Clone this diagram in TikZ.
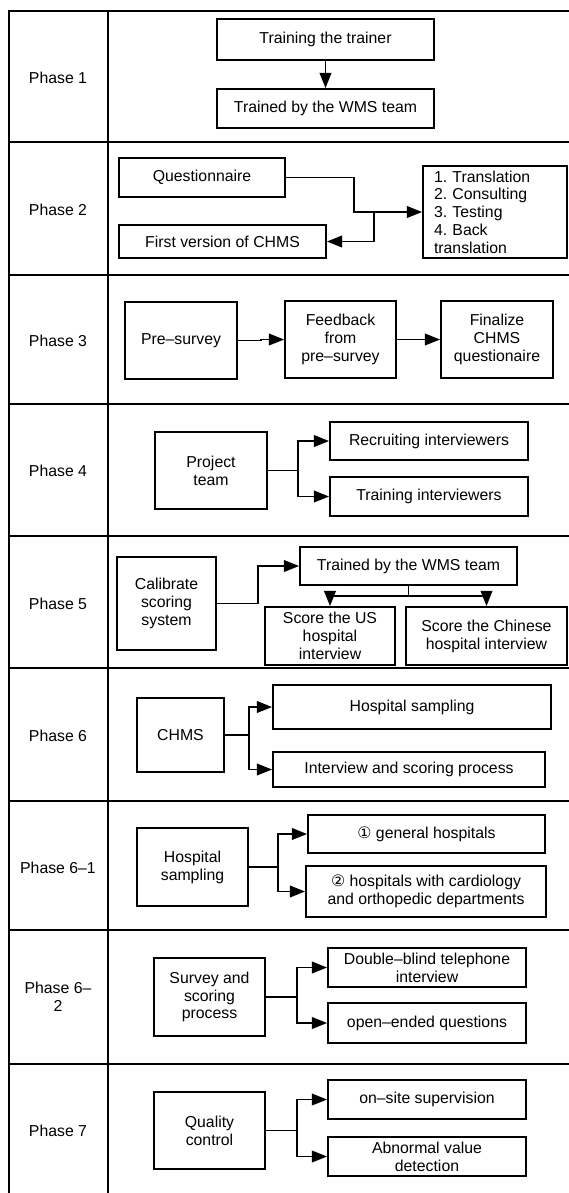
\documentclass[tikz,border=0pt]{standalone}
\usepackage{fontspec}
\setmainfont{Liberation Sans}
\newfontfamily\circfont{DejaVu Sans}
\usetikzlibrary{arrows,arrows.meta,positioning}
\frenchspacing

\begin{document}
\begin{tikzpicture}[x=0.03cm, y=-0.03cm]
% STYLES
\tikzset{%
    stage/.style={%
    rectangle,
    draw,
    line width=1.6pt,
    inner sep=1pt,
    align=center,
    font=\fontsize{13.5}{15.2}\selectfont}
    }
\tikzset{%
    phase/.style={%
    align=center,
    %draw,
    font=\fontsize{13.5}{15.2}\selectfont}
    }
\tikzset{%
    frameline/.style={line width=1.8pt},
    linkline/.style={line width=1.4pt},
    flowline/.style={linkline, -{Triangle[length=13pt,width=10pt]}}
    }
\useasboundingbox (0,0) rectangle (569,1193);

% Draw the table
\draw[frameline] (569,11) -- (9,11) -- (9,1193);
\draw[frameline] (108,11) -- (108,1193);
\foreach \y in {142,275,404,536,668,801,930,1064}
    \draw[frameline] (9,\y) -- (569,\y);

% Phase labels
\node [phase] (PhaseOne) at (58,78) {Phase 1};
\node [phase] (PhaseTwo) at (58,210) {Phase 2};
\node [phase] (PhaseThree) at (58,341) {Phase 3};
\node [phase] (PhaseFour) at (58,471) {Phase 4};
\node [phase] (PhaseFive) at (58,604) {Phase 5};
\node [phase] (PhaseSix) at (58,736) {Phase 6};
\node [phase] (PhaseSixA) at (58,868) {Phase 6–1};
\node [phase] (PhaseSixB) at (58,997) {Phase 6–\\2};
\node [phase] (PhaseSeven) at (58,1131) {Phase 7};

% Phase 1
\node [stage, minimum width=6.51cm, minimum height=1.23cm] (Trainer) at (325.5,39.5) {Training the trainer};
\node [stage, minimum width=6.51cm, minimum height=1.17cm] (TrainedWMS) at (325.5,108.5) {Trained by the WMS team};

% Phase 2
\node [stage, minimum width=4.98cm, minimum height=1.17cm] (Questionnaire) at (202,177.5) {Questionnaire};
\node [stage, minimum width=6.21cm, minimum height=0.99cm] (FirstVersion) at (222.5,241.5) {First version of CHMS};
\node [stage, align=left, text width=3.66cm, inner xsep=0.33cm, inner ysep=1pt, minimum height=2.76cm] (Steps) at (495,212) {1. Translation\\2. Consulting\\3. Testing\\4. Back\\translation};

% Phase 3
\node [stage, minimum width=3.36cm, minimum height=2.31cm] (PreSurvey) at (181,340.5) {Pre–survey};
\node [stage, minimum width=3.33cm, minimum height=2.31cm] (Feedback) at (340.5,339.5) {Feedback\\from\\pre–survey};
\node [stage, minimum width=3.36cm, minimum height=2.31cm] (Finalize) at (497,339.5) {Finalize\\CHMS\\questionaire};

% Phase 4
\node [stage, minimum width=3.36cm, minimum height=2.31cm] (ProjectTeam) at (211,470.5) {Project\\team};
\node [stage, minimum width=5.94cm, minimum height=1.14cm] (Recruiting) at (429,441) {Recruiting interviewers};
\node [stage, minimum width=5.94cm, minimum height=1.17cm] (TrainingInt) at (429,496.5) {Training interviewers};

% Phase 5
\node [stage, minimum width=2.97cm, minimum height=2.79cm] (Calibrate) at (166.5,603.5) {Calibrate\\scoring\\system};
\node [stage, minimum width=6.51cm, minimum height=1.14cm] (TrainedTwo) at (408.5,566) {Trained by the WMS team};
\node [stage, minimum width=3.9cm, minimum height=1.74cm] (ScoreUS) at (330,636) {Score the US\\hospital\\interview};
\node [stage, minimum width=4.83cm, minimum height=1.74cm] (ScoreCN) at (486.5,636) {Score the Chinese\\hospital interview};

% Phase 6
\node [stage, minimum width=2.61cm, minimum height=2.22cm] (CHMS) at (180.5,735) {CHMS};
\node [stage, minimum width=8.34cm, minimum height=1.32cm] (HospSampling) at (412,707) {Hospital sampling};
\node [stage, minimum width=8.16cm, minimum height=1.05cm] (InterviewScoring) at (409,769.5) {Interview and scoring process};

% Phase 6-1
\node [stage, minimum width=3.33cm, minimum height=2.34cm] (SampleHosp) at (192.5,867) {Hospital\\sampling};
\node [stage, minimum width=7.11cm, minimum height=1.14cm] (General) at (426.5,834) {{\circfont ①} general hospitals};
\node [stage, minimum width=7.2cm, minimum height=1.53cm] (Cardio) at (426,891.5) {{\circfont ②} hospitals with cardiology\\and orthopedic departments};

% Phase 6-2
\node [stage, minimum width=3.33cm, minimum height=2.34cm] (Survey) at (209.5,997) {Survey and\\scoring\\process};
\node [stage, minimum width=5.94cm, minimum height=1.17cm] (DoubleBlind) at (427,967.5) {Double–blind telephone\\interview};
\node [stage, minimum width=5.94cm, minimum height=1.2cm] (OpenEnded) at (427,1023) {open–ended questions};

% Phase 7
\node [stage, minimum width=3.33cm, minimum height=2.31cm] (Quality) at (209.5,1130.5) {Quality\\control};
\node [stage, minimum width=5.94cm, minimum height=1.17cm] (OnSite) at (427,1099.5) {on–site supervision};
\node [stage, minimum width=5.94cm, minimum height=1.17cm] (Abnormal) at (427,1156.5) {Abnormal value\\detection};

% Forks
\coordinate (QTurn) at (354,212);
\coordinate (QFork) at (374,212);
\coordinate (TeamFork) at (298,470.5);
\coordinate (CalibTurn) at (258,603.5);
\coordinate (ScoreFork) at (408.5,596);
\coordinate (CHMSFork) at (249,735);
\coordinate (SampleFork) at (278,867);
\coordinate (SurveyFork) at (297,997);
\coordinate (QualityFork) at (297,1130.5);

% Draw the links
\path[flowline]
(Trainer) edge (TrainedWMS)
(Feedback) edge (Finalize);
\draw[flowline] (Questionnaire.east) -| (QTurn) -- (Steps.west);
\draw[flowline] (QFork) |- (FirstVersion.east);
\draw[flowline] (PreSurvey.east) -- ++(23,0) |- (Feedback.west);
\draw[linkline] (ProjectTeam.east) -- (TeamFork);
\draw[flowline] (TeamFork) |- (Recruiting.west);
\draw[flowline] (TeamFork) |- (TrainingInt.west);
\draw[flowline] (Calibrate.east) -- (CalibTurn) |- (TrainedTwo.west);
\draw[linkline] (TrainedTwo.south) -- (ScoreFork);
\draw[flowline] (ScoreFork) -| (ScoreUS.north);
\draw[flowline] (ScoreFork) -| (ScoreCN.north);
\draw[linkline] (CHMS.east) -- (CHMSFork);
\draw[flowline] (CHMSFork) |- (HospSampling.west);
\draw[flowline] (CHMSFork) |- (InterviewScoring.west);
\draw[linkline] (SampleHosp.east) -- (SampleFork);
\draw[flowline] (SampleFork) |- (General.west);
\draw[flowline] (SampleFork) |- (Cardio.west);
\draw[linkline] (Survey.east) -- (SurveyFork);
\draw[flowline] (SurveyFork) |- (DoubleBlind.west);
\draw[flowline] (SurveyFork) |- (OpenEnded.west);
\draw[linkline] (Quality.east) -- (QualityFork);
\draw[flowline] (QualityFork) |- (OnSite.west);
\draw[flowline] (QualityFork) |- (Abnormal.west);

\end{tikzpicture}
\end{document}
